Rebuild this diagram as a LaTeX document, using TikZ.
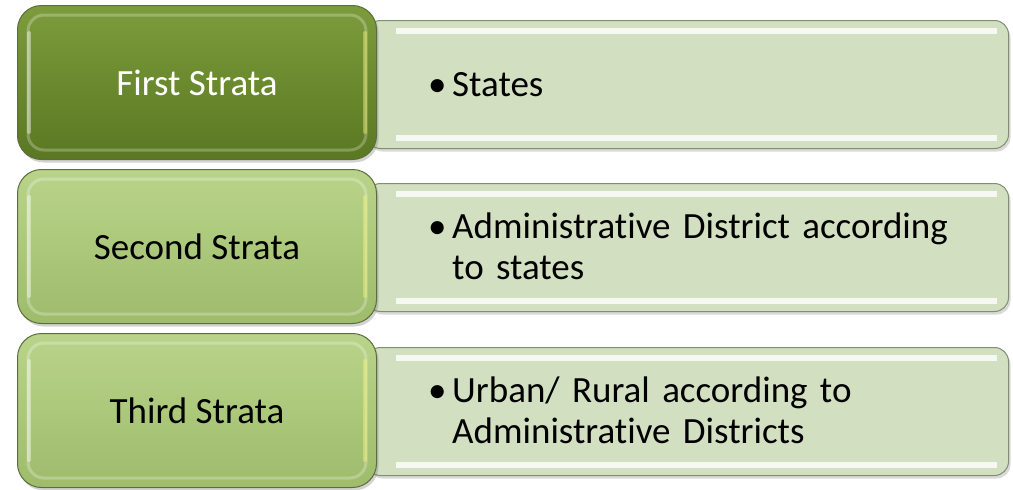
\documentclass[tikz,border=0pt]{standalone}
\usepackage{fontspec}
\setmainfont{Carlito}[Ligatures={NoCommon}]
\usetikzlibrary{shadows}
\definecolor{dkTop}{HTML}{7C9C3C}
\definecolor{dkBot}{HTML}{5A7822}
\definecolor{ltTop}{HTML}{B9D48A}
\definecolor{ltBot}{HTML}{9EBC6C}
\definecolor{rFill}{HTML}{D3DFC1}
\definecolor{rEdge}{HTML}{7F8F70}
\definecolor{lEdge}{HTML}{5A6E3A}
\tikzset{
  rbox/.style={anchor=north west, draw=rEdge, line width=1pt, fill=rFill,
    rounded corners=14pt, minimum width=642pt, minimum height=128pt,
    drop shadow={opacity=0.3, shadow xshift=2pt, shadow yshift=-3pt}},
  lbox/.style={anchor=north west, draw=lEdge, line width=1pt, rounded corners=24pt,
    minimum width=359pt, minimum height=154pt, font=\fontsize{37}{41}\selectfont,
    drop shadow={opacity=0.35, shadow xshift=2pt, shadow yshift=-3pt}},
  darkbox/.style={lbox, top color=dkTop, bottom color=dkBot, text=white},
  lightbox/.style={lbox, top color=ltTop, bottom color=ltBot, text=black},
  hilite/.style={white, line width=6pt, opacity=0.8},
  bevel/.style={draw=white, line width=3pt, opacity=0.25, rounded corners=16pt},
  sidelite/.style={line width=4pt, opacity=0.4, line cap=round},
  bul/.style={anchor=base west, inner sep=0pt, font=\fontsize{37}{41}\selectfont},
  itemtext/.style={anchor=base west, align=left, inner sep=0pt,
    text width=545pt, font=\fontsize{37}{41}\selectfont},
}
\begin{document}
\begin{tikzpicture}[x=1pt, y=-1pt]
\useasboundingbox (0,0) rectangle (1013,490);
% right boxes
\foreach \n/\y in {1/20, 2/183, 3/347} {
  \node[rbox] (r\n) at (366,\y) {};
  \draw[hilite] ([xshift=30pt,yshift=-11pt]r\n.north west) -- ([xshift=-12pt,yshift=-11pt]r\n.north east);
  \draw[hilite] ([xshift=30pt,yshift=11pt]r\n.south west) -- ([xshift=-12pt,yshift=11pt]r\n.south east);
}
% left boxes
\node[darkbox] (l1) at (17,5) {First Strata};
\node[lightbox] (l2) at (17,169) {Second Strata};
\node[lightbox] (l3) at (17,333) {Third Strata};
\foreach \n in {1,2,3} {
  \draw[bevel] ([xshift=11pt,yshift=-10pt]l\n.north west) rectangle ([xshift=-11pt,yshift=10pt]l\n.south east);
  \draw[sidelite, white] ([xshift=12pt,yshift=-28pt]l\n.north west) -- ([xshift=12pt,yshift=28pt]l\n.south west);
  \draw[sidelite, yellow!55!white] ([xshift=-12pt,yshift=-28pt]l\n.north east) -- ([xshift=-12pt,yshift=28pt]l\n.south east);
}
% texts
\node[bul] (b1) at (428,96) {\textbullet};
\node[itemtext] (t1) at (452,96) {States};
\node[bul] (b2) at (428,238) {\textbullet};
\node[itemtext] (t2) at (452,238) {Administrative District according\\to states};
\node[bul] (b3) at (428,402) {\textbullet};
\node[itemtext] (t3) at (452,402) {Urban/ Rural according to\\Administrative Districts};
\end{tikzpicture}
\end{document}
